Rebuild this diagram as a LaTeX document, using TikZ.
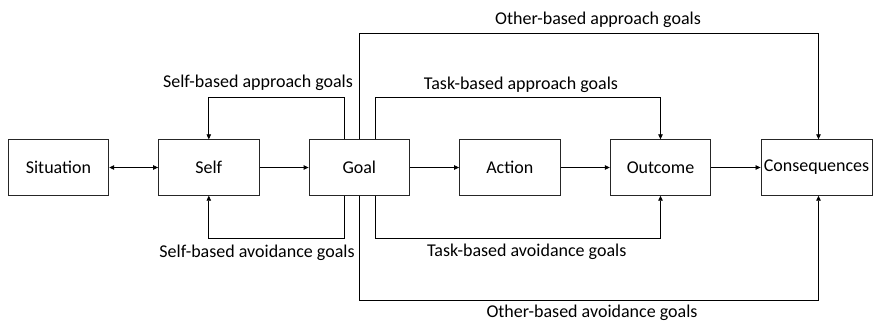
\documentclass[tikz,border=0pt]{standalone}
\usepackage{fontspec}
\setmainfont{Carlito}
\usetikzlibrary{arrows.meta}
\begin{document}
\begin{tikzpicture}[x=1bp,y=-1bp,
  box/.style={draw=black!85,line width=0.9bp,minimum width=100.5bp,minimum height=55.5bp,inner sep=0pt,font=\fontsize{18bp}{21bp}\selectfont},
  conn/.style={line width=0.8bp,-{Triangle[length=5bp,width=4.5bp]}},
  lbl/.style={font=\fontsize{18bp}{21bp}\selectfont,inner sep=0pt}]
\useasboundingbox (0,0) rectangle (873,322);
\node[box] (sit) at (58.5,167.5) {Situation};
\node[box] (self) at (208.8,167.5) {Self};
\node[box] (goal) at (359.3,167.5) {Goal};
\node[box] (act) at (509.8,167.5) {Action};
\node[box] (out) at (660.5,167.5) {Outcome};
\node[box,minimum width=111bp] (cons) at (816.5,167.5) {Consequences};
\draw[conn,{Triangle[length=5bp,width=4.5bp]}-{Triangle[length=5bp,width=4.5bp]}] (sit) -- (self);
\draw[conn] (self) -- (goal);
\draw[conn] (goal) -- (act);
\draw[conn] (act) -- (out);
\draw[conn] (out) -- (cons);
% self-based
\coordinate (gsa) at ([xshift=-15bp]goal.north);
\coordinate (gsv) at ([xshift=-15bp]goal.south);
\draw[conn] (gsa) |- (208.8,97.3) -- (self.north);
\draw[conn] (gsv) |- (208.8,238.3) -- (self.south);
% task-based
\coordinate (gta) at ([xshift=16.5bp]goal.north);
\coordinate (gtv) at ([xshift=16.5bp]goal.south);
\draw[conn] (gta) |- (660.5,97) -- (out.north);
\draw[conn] (gtv) |- (660.5,238.3) -- (out.south);
% other-based
\draw[conn] (goal.north) |- (818.5,33.7) -- (cons.north -| 818.5,0);
\draw[conn] (goal.south) |- (818.5,300) -- (cons.south -| 818.5,0);
% labels
\node[lbl] (l1) at (258,82.7) {Self-based approach goals};
\node[lbl] (l2) at (257,252.7) {Self-based avoidance goals};
\node[lbl] (l3) at (521,84.3) {Task-based approach goals};
\node[lbl] (l4) at (526.7,251.7) {Task-based avoidance goals};
\node[lbl] (l5) at (598,19.3) {Other-based approach goals};
\node[lbl] (l6) at (592,313) {Other-based avoidance goals};
\end{tikzpicture}
\end{document}
